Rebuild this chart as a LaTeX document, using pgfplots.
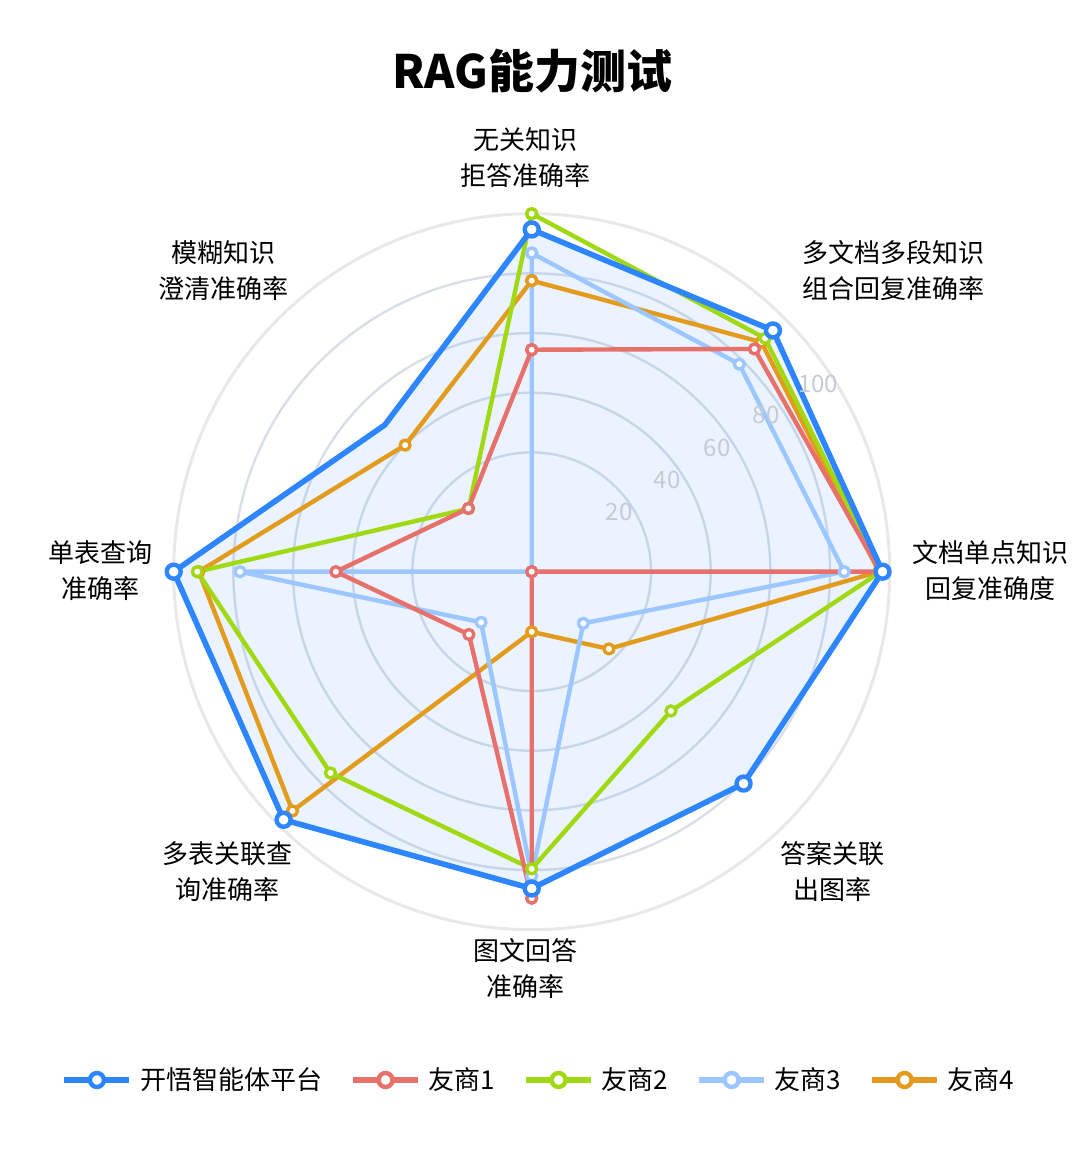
\documentclass[border=0pt]{standalone}
\usepackage{fontspec}
\setmainfont{Noto Sans CJK SC}
\usepackage{pgfplots}
\pgfplotsset{compat=1.18}
\usepgfplotslibrary{polar}

\definecolor{kaiwu}{HTML}{2D86FF}
\definecolor{ysA}{HTML}{E8706A}
\definecolor{ysB}{HTML}{A0D911}
\definecolor{ysC}{HTML}{9CC6FF}
\definecolor{ysD}{HTML}{E39B1E}
\definecolor{ringin}{HTML}{D9DEE7}
\definecolor{ringout}{HTML}{E8E8E8}
\definecolor{ticklab}{HTML}{C6CBD3}

\begin{document}
\begin{tikzpicture}
\path[use as bounding box] (0,0) rectangle (540pt,578pt);
\begin{polaraxis}[
  at={(265.85pt,292.15pt)}, anchor=origin,
  width=358pt, height=358pt, scale only axis,
  ymin=0, ymax=100,
  xtick=\empty,
  ytick={33.333,50,66.667},
  yticklabels={},
  extra y ticks={83.333},
  extra y tick labels={},
  ymajorgrids,
  y grid style={ringin, line width=1.2pt},
  extra y tick style={grid style={ringout, line width=1.2pt}},
  major tick length=0pt,
  axis line style={ringout, line width=1.5pt},
  legend style={at={(0.5116,-0.2099)}, anchor=center, draw=none, fill=none,
    legend columns=5, font=\fontsize{13}{16}\selectfont,
    /tikz/every even column/.append style={column sep=12pt},
    /tikz/every odd column/.append style={column sep=2pt}},
  legend image code/.code={\draw[mark repeat=2, mark phase=2, #1]
    plot coordinates {(0pt,0pt) (16.25pt,0pt) (32.5pt,0pt)};},
  every axis plot/.append style={line join=round},
  small/.style={line width=2.2pt, mark=*, mark size=2.5pt,
    mark options={fill=white, line width=1.7pt}},
  big/.style={line width=2.8pt, mark=*, mark size=3.5pt,
    mark options={fill=white, line width=2.2pt}},
]
% area of the first series
\addplot[forget plot, draw=none, fill=kaiwu, fill opacity=0.1] coordinates {
  (90,95.6) (45,95.3) (0,98) (-45,83.7) (-90,88.5) (-135,98) (-180,100) (-225,58) (-270,95.6)};

% 友商4
\addplot[forget plot, ysD, small] coordinates {
  (90,81.3) (45,90.7) (0,97) (-45,30.5) (-90,16.8) (-135,94.5) (-180,93) (-225,50) (-270,81.3)};
% 友商3
\addplot[forget plot, ysC, small] coordinates {
  (90,89) (45,82) (0,87.3) (-45,20.4) (-90,85) (-135,20) (-180,81.5) (-225,0) (-270,89)};
% 友商2
\addplot[forget plot, ysB, small] coordinates {
  (90,100) (45,92.2) (0,97.5) (-45,55) (-90,83) (-135,79.5) (-180,93.4) (-225,24.9) (-270,100)};
% 友商1
\addplot[forget plot, ysA, small] coordinates {
  (90,62) (45,88) (0,97.3) (-45,0) (-90,91.2) (-135,24.8) (-180,54.7) (-225,25) (-270,62)};
% 开悟智能体平台
\addplot[forget plot, kaiwu, big, mark indices={1,2,3,4,5,6,7}] coordinates {
  (90,95.6) (45,95.3) (0,98) (-45,83.7) (-90,88.5) (-135,98) (-180,100) (-225,58) (-270,95.6)};

\addlegendimage{kaiwu, big}
\addlegendentry{开悟智能体平台}
\addlegendimage{ysA, big}
\addlegendentry{友商1}
\addlegendimage{ysB, big}
\addlegendentry{友商2}
\addlegendimage{ysC, big}
\addlegendentry{友商3}
\addlegendimage{ysD, big}
\addlegendentry{友商4}
\end{polaraxis}

\node[font=\fontsize{23}{28}\selectfont\bfseries] at (266.25pt,542.25pt) {RAG能力测试};

\begin{scope}[every node/.style={align=center, font=\fontsize{13}{18}\selectfont}]
\node at (262.5pt,499pt) {无关知识\\拒答准确率};
\node at (446.5pt,442.5pt) {多文档多段知识\\组合回复准确率};
\node at (495pt,292.5pt) {文档单点知识\\回复准确度};
\node at (416pt,142pt) {答案关联\\出图率};
\node at (262.5pt,93.5pt) {图文回答\\准确率};
\node at (113.5pt,142pt) {多表关联查\\询准确率};
\node at (50pt,292.5pt) {单表查询\\准确率};
\node at (111.5pt,442.5pt) {模糊知识\\澄清准确率};
\end{scope}

\begin{scope}[every node/.style={text=ticklab, font=\fontsize{12}{14}\selectfont}]
\node at (309.5pt,322pt) {20};
\node at (333.5pt,338pt) {40};
\node at (358.5pt,354pt) {60};
\node at (383pt,370.5pt) {80};
\node at (409pt,386pt) {100};
\end{scope}
\end{tikzpicture}
\end{document}
